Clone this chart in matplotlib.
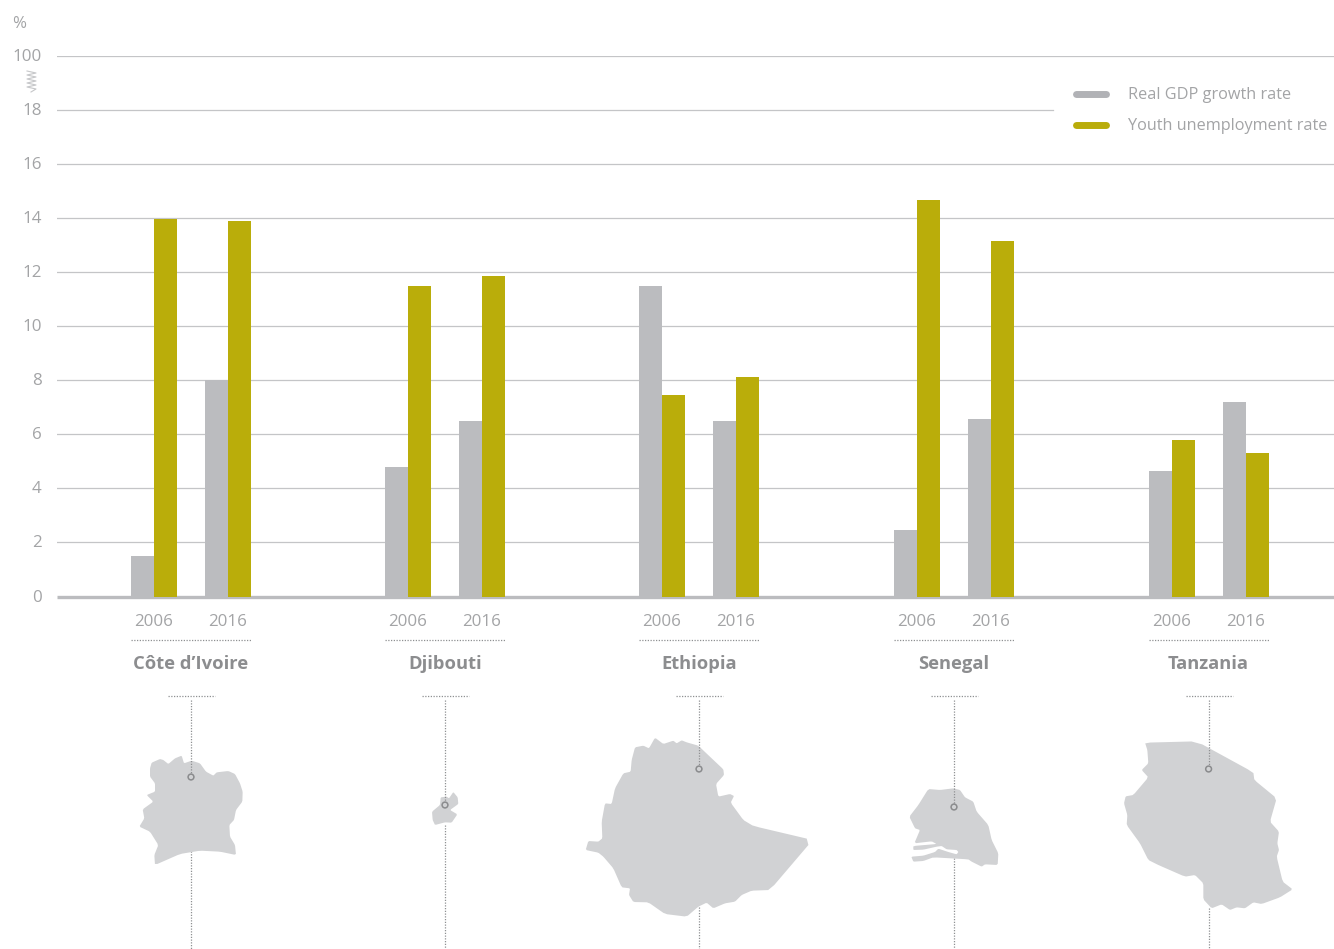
import matplotlib
matplotlib.use('Agg')
import matplotlib.pyplot as plt
from matplotlib.patches import Polygon, Circle
from matplotlib.transforms import ScaledTranslation

plt.rcParams['font.family'] = ['Open Sans', 'DejaVu Sans']

countries = ['Côte d’Ivoire', 'Djibouti', 'Ethiopia', 'Senegal', 'Tanzania']
years = ['2006', '2016']
gdp_2006 = [1.5, 4.8, 11.5, 2.45, 4.65]
gdp_2016 = [8.0, 6.5, 6.5, 6.55, 7.2]
youth_2006 = [13.97, 11.5, 7.45, 14.67, 5.8]
youth_2016 = [13.9, 11.85, 8.13, 13.15, 5.3]
y_ticks = [0, 2, 4, 6, 8, 10, 12, 14, 16, 18, 20]
y_labels = ['0', '2', '4', '6', '8', '10', '12', '14', '16', '18', '100']

GREY = '#bbbcbf'
OLIVE = '#baad0a'
TEXT = '#a3a4a6'
W, H = 1334, 949

# country centres, in px, the x axis is just the picture width
centres = [191, 445, 699, 954, 1208.6]
bw = 23
gap = 37

# map outlines (3x crops)
cote = [(150,565),(155,548),(180,537),(190,540),(205,552),(225,535),(245,527),(252,550),(275,542),(300,550),
        (318,575),(340,587),(350,577),(385,573),(405,582),(420,610),(428,635),(427,665),(408,690),(402,720),
        (388,735),(390,770),(405,795),(408,825),(360,815),(300,812),(240,822),(165,855),(163,825),(175,795),
        (150,755),(118,740),(133,715),(128,688),(160,665),(140,645),(165,635),(165,610),(150,590)]
djibouti = [(1022,652),(1040,650),(1047,655),(1060,636),(1073,652),(1075,672),(1050,690),(1072,703),(1055,728),
            (1035,727),(1005,735),(998,720),(996,695),(1020,675)]
ethiopia = [(195,202),(220,197),(237,205),(255,173),(280,192),(310,182),(320,190),(335,181),(350,187),(385,197),
            (425,235),(460,268),(462,285),(438,312),(445,350),(480,342),(492,348),(482,368),(520,420),(550,438),
            (728,480),(600,630),(545,632),(515,645),(495,665),(465,670),(430,685),(410,668),(385,680),(350,710),
            (285,702),(235,667),(190,666),(177,645),(180,625),(155,622),(130,565),(100,530),(85,518),(47,510),
            (55,483),(85,485),(97,475),(95,425),(105,370),(125,372),(135,325),(160,280),(182,275),(185,240)]
senegal = [(1075,327),(1110,330),(1150,325),(1170,330),(1185,352),(1210,365),(1220,395),(1255,435),(1265,480),
           (1285,520),(1283,555),(1245,553),(1235,560),(1205,545),(1195,538),(1090,532),(1060,543),(1030,545),
           (1024,530),(1060,527),(1095,516),(1105,506),(1135,516),(1160,523),(1165,516),(1160,510),(1130,508),
           (1115,498),(1100,500),(1060,509),(1030,510),(1030,498),(1100,492),(1085,484),(1033,490),(1050,450),
           (1035,445),(1018,410),(1045,375)]
tanzania = [(315,188),(470,184),(640,277),(643,300),(710,355),(690,425),(717,455),(712,490),(717,510),(710,530),
            (728,605),(758,628),(720,652),(665,672),(640,667),(615,685),(590,682),(570,690),(545,673),(515,685),
            (490,658),(490,610),(465,585),(435,590),(355,555),(325,540),(300,490),(260,435),(262,405),(252,370),
            (257,349),(280,345),(325,292),(305,270),(325,250),(322,210)]

# (outline, crop x, crop y)
shapes = [(cote, 100, 580), (djibouti, 100, 580), (ethiopia, 570, 680),
          (senegal, 570, 680), (tanzania, 1040, 680)]
pin_y = [777, 805, 769, 807, 769]
line_from = [851, 825, 907, 858, 908]


# round the traced corners a bit
def soften(pts, k=0.1):
    out = []
    for i, (x, y) in enumerate(pts):
        x2, y2 = pts[(i + 1) % len(pts)]
        out.append((x + k * (x2 - x), y + k * (y2 - y)))
        out.append((x2 - k * (x2 - x), y2 - k * (y2 - y)))
    return out


fig = plt.figure(figsize=(W / 100, H / 100), dpi=100)

# main chart
ax = fig.add_axes([57 / W, 1 - 596.5 / H, (W - 57) / W, 540.5 / H])
ax.set_xlim(57, W)
ax.set_ylim(0, 20)
for s in ax.spines.values():
    s.set_visible(False)
ax.set_xticks([])
ax.set_yticks(y_ticks)
ax.set_yticklabels(y_labels, fontsize=12.2, color=TEXT)
ax.tick_params(axis='y', length=0, pad=11)
nudge = ScaledTranslation(0, 1 / 100, fig.dpi_scale_trans)
for lab in ax.get_yticklabels():
    lab.set_transform(lab.get_transform() + nudge)

for t in y_ticks[1:]:
    ax.plot([57, 1053 if t == 18 else W], [t, t], color='#c4c5c7', lw=0.9, zorder=1)
ax.plot([57, W], [0, 0], color=GREY, lw=2.4, zorder=2, solid_capstyle='butt', clip_on=False)

for i, c in enumerate(centres):
    ax.bar(c - gap - bw / 2, gdp_2006[i], bw, color=GREY, zorder=3)
    ax.bar(c - gap + bw / 2, youth_2006[i], bw, color=OLIVE, zorder=3)
    ax.bar(c + gap - bw / 2, gdp_2016[i], bw, color=GREY, zorder=3)
    ax.bar(c + gap + bw / 2, youth_2016[i], bw, color=OLIVE, zorder=3)

# everything else, in picture px
ov = fig.add_axes([0, 0, 1, 1])
ov.set_xlim(0, W)
ov.set_ylim(H, 0)
ov.axis('off')
ov.patch.set_alpha(0)

ov.text(19, 24, '%', fontsize=12.2, color=TEXT, ha='center', va='center')
zig_x = [27, 36, 27, 36, 27, 36, 27, 36, 27, 36, 31]
zig_y = [71, 73, 75, 77, 79, 81, 83, 85, 87, 89, 92]
ov.plot(zig_x, zig_y, color='#c6c7c9', lw=0.8)

# legend
ov.plot([1076, 1106], [94, 94], color='#b1b2b6', lw=5, solid_capstyle='round')
ov.plot([1076, 1106], [125, 125], color='#b9ac0a', lw=5, solid_capstyle='round')
ov.text(1128, 95, 'Real GDP growth rate', fontsize=11.7, color=TEXT, va='center')
ov.text(1128, 126, 'Youth unemployment rate', fontsize=11.7, color=TEXT, va='center')

dot = dict(color='#8f9092', lw=0.9, ls=(0, (1, 1.2)))
for i, c in enumerate(centres):
    ov.text(c - gap, 622, years[0], fontsize=12.2, color=TEXT, ha='center', va='center')
    ov.text(c + gap, 622, years[1], fontsize=12.2, color=TEXT, ha='center', va='center')
    ov.plot([c - 60, c + 61], [640, 640], **dot)
    ov.text(c, 664, countries[i], fontsize=13.2, fontweight='bold', color='#8c8d8f', ha='center', va='center')
    ov.plot([c - 23, c + 24], [696, 696], **dot)
    ov.plot([c, c], [700, pin_y[i] - 3], zorder=4, **dot)
    ov.plot([c, c], [line_from[i], H], zorder=1, **dot)
    ov.add_patch(Circle((c, pin_y[i]), 2.9, fc='none', ec='#8a8b8d', lw=1.1, zorder=5))

for pts, ox, oy in shapes:
    px = [(ox + x / 3, oy + y / 3) for x, y in soften(pts)]
    ov.add_patch(Polygon(px, closed=True, fc='#d1d2d4', ec='none', zorder=3))

plt.savefig('out.png', dpi=100)
